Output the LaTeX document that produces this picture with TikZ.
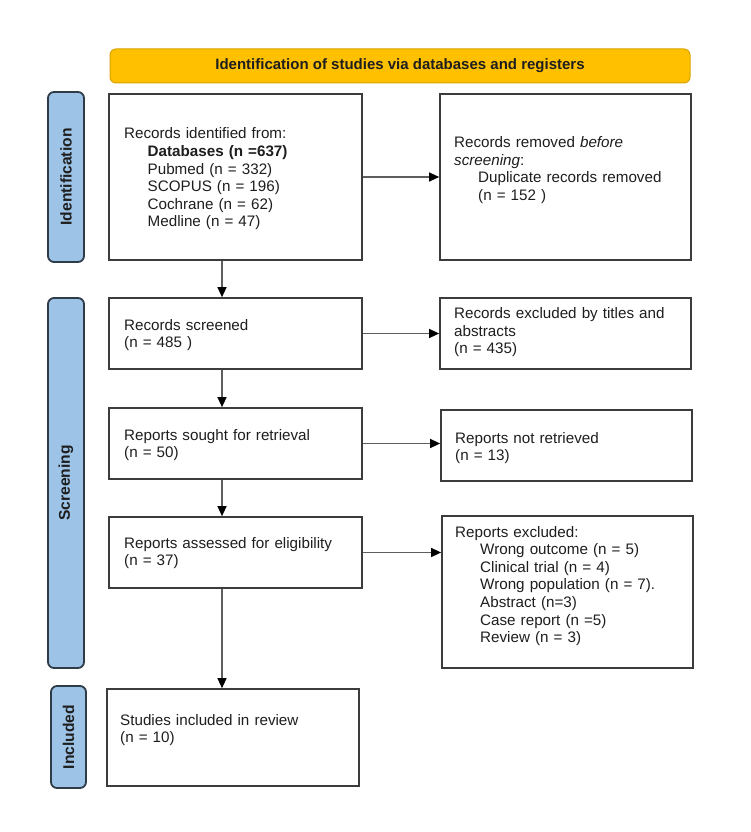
\documentclass[tikz,border=0pt]{standalone}
\usepackage{fontspec}
\setmainfont{Liberation Sans}
\usetikzlibrary{arrows.meta}
\definecolor{hdrfill}{HTML}{FFC000}
\definecolor{hdrline}{HTML}{D9A400}
\definecolor{barfill}{HTML}{9DC3E6}
\definecolor{barline}{HTML}{2E3B48}
\definecolor{boxline}{HTML}{3C3C3C}
\definecolor{arrline}{HTML}{5E5E5E}
\definecolor{txtcol}{HTML}{1E1E1E}
\begin{document}
\begin{tikzpicture}[x=1pt,y=-1pt,
  box/.style={draw=boxline, line width=1.7pt, fill=white, inner sep=0pt},
  hdr/.style={draw=hdrline, line width=1pt, fill=hdrfill, rounded corners=6pt, inner sep=0pt,
    text=txtcol, font=\fontsize{15}{17}\selectfont\bfseries},
  sidebar/.style={draw=barline, line width=1.8pt, fill=barfill, rounded corners=6pt, inner sep=0pt,
    rotate=90, text=txtcol, font=\fontsize{15.6}{17}\selectfont\bfseries},
  txt/.style={anchor=base west, inner sep=0pt, align=left, text=txtcol, text width=#1,
    font=\fontsize{15.2}{17.6}\selectfont},
  txt/.default=235pt,
  arr/.style={draw=arrline, line width=1.3pt,
    -{Triangle[length=10pt,width=9pt,fill=black,color=black]}}]
\useasboundingbox (0,0) rectangle (750,832);
\fill[white] (0,0) rectangle (750,832);

% header and side bars
\node[hdr, minimum width=580pt, minimum height=34pt] (hdr) at (400,66)
  {Identification of studies via databases and registers};
\node[sidebar, minimum width=170pt, minimum height=36pt] (idbar) at (66,177) {Identification};
\node[sidebar, minimum width=370pt, minimum height=36pt] (scbar) at (66,483) {Screening};
\node[sidebar, minimum width=102pt, minimum height=35pt] (inbar) at (68.5,737) {Included};

% boxes
\node[box, minimum width=253pt, minimum height=166pt] (b1)  at (235.5,177) {};
\node[box, minimum width=251pt, minimum height=166pt] (rem) at (565.5,177) {};
\node[box, minimum width=253pt, minimum height=71pt]  (scr) at (235.5,333.5) {};
\node[box, minimum width=251pt, minimum height=71pt]  (exc) at (565.5,333.5) {};
\node[box, minimum width=253pt, minimum height=71pt]  (sou) at (235.5,443.5) {};
\node[box, minimum width=251pt, minimum height=71pt]  (nr)  at (566.5,445.5) {};
\node[box, minimum width=253pt, minimum height=71pt]  (ass) at (235.5,552.5) {};
\node[box, minimum width=251pt, minimum height=152pt] (rex) at (567.5,592) {};
\node[box, minimum width=252pt, minimum height=97pt]  (inc) at (233,737.5) {};

% texts
\node[txt] (t1) at (124,139) {Records identified from:\\
  \hspace*{23.5pt}\textbf{Databases (n =637)}\\
  \hspace*{23.5pt}Pubmed (n = 332)\\
  \hspace*{23.5pt}SCOPUS (n = 196)\\
  \hspace*{23.5pt}Cochrane (n = 62)\\
  \hspace*{23.5pt}Medline (n = 47)};
\node[txt] (t2) at (454,147.5) {Records removed \textit{before}\\
  \textit{screening}:\\
  \hspace*{24pt}Duplicate records removed\\
  \hspace*{24pt}(n = 152 )};
\node[txt] (t3) at (124,330) {Records screened\\(n = 485 )};
\node[txt] (t4) at (454,318.5) {Records excluded by titles and\\abstracts\\(n = 435)};
\node[txt] (t5) at (124,440) {Reports sought for retrieval\\(n = 50)};
\node[txt] (t6) at (455,443) {Reports not retrieved\\(n = 13)};
\node[txt] (t7) at (124,548) {Reports assessed for eligibility\\(n = 37)};
\node[txt] (t8) at (455,537) {Reports excluded:\\
  \hspace*{25pt}Wrong outcome (n = 5)\\
  \hspace*{25pt}Clinical trial (n = 4)\\
  \hspace*{25pt}Wrong population (n = 7).\\
  \hspace*{25pt}Abstract (n=3)\\
  \hspace*{25pt}Case report (n =5)\\
  \hspace*{25pt}Review (n = 3)};
\node[txt] (t9) at (120,725) {Studies included in review\\(n = 10)};

% connectors
\coordinate (ax) at (222,0);
\draw[arr] (b1.east) -- (rem.west);
\draw[arr] (scr.east) -- (scr.east -| exc.west);
\draw[arr] (sou.east) -- (sou.east -| nr.west);
\draw[arr] (ass.east) -- (ass.east -| rex.west);
\draw[arr] (b1.south -| ax) -- (scr.north -| ax);
\draw[arr] (scr.south -| ax) -- (sou.north -| ax);
\draw[arr] (sou.south -| ax) -- (ass.north -| ax);
\draw[arr] (ass.south -| ax) -- (inc.north -| ax);
\end{tikzpicture}
\end{document}
